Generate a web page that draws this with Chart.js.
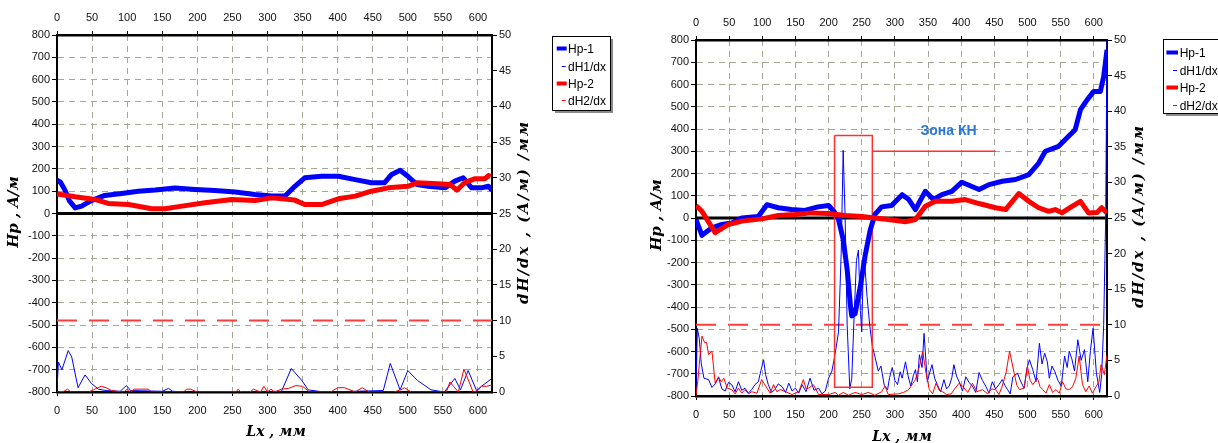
<!DOCTYPE html>
<html>
<head>
<meta charset="utf-8">
<script src="https://cdn.jsdelivr.net/npm/chart.js@4.4.1/dist/chart.umd.min.js"></script>
<style>
  body { margin: 0; background: #fff; width: 1218px; height: 443px; overflow: hidden; position: relative; }
  canvas { position: absolute; top: 0; }
  #c1 { left: 0; }
  #c2 { left: 620px; }
</style>
</head>
<body>
<canvas id="c1" width="620" height="443"></canvas>
<canvas id="c2" width="598" height="443"></canvas>
<script>
// ---- data, pairs of [Lx mm, value] ----
// left chart
var hp1Left = [[0,149],[5,140],[11,107],[18,55],[26,25],[35,33],[49,58],[68,81],[92,90],[116,100],[140,105],[168,114],[197,108],[225,103],[254,96],[282,85],[306,78],[325,78],[339,122],[353,160],[377,167],[401,167],[425,152],[448,138],[467,138],[477,175],[489,194],[500,167],[513,130],[529,122],[553,115],[567,145],[579,160],[591,115],[605,115],[615,122],[620,103]];
var hp2Left = [[0,88],[26,75],[54,63],[73,45],[102,40],[135,21],[154,21],[178,33],[211,48],[249,63],[282,58],[306,70],[339,60],[353,40],[377,40],[401,66],[425,78],[448,100],[472,115],[500,122],[514,138],[543,133],[560,130],[570,105],[581,138],[596,156],[610,156],[615,170],[618,165]];
var dH1Left = [[0,0.3],[2,4.2],[7,3.1],[16,5.8],[21,4.9],[30,0.6],[40,2.4],[49,1.2],[59,0.4],[70,0.2],[90,0.1],[99,0.9],[105,0.2],[150,0.1],[159,0.5],[165,0.1],[180,0],[320,0.1],[334,3.3],[349,1.6],[358,0.3],[380,0],[465,0.2],[475,4.0],[489,0.3],[500,3.0],[514,1.6],[533,0.3],[552,0],[567,1.9],[575,0.3],[586,3.0],[598,0.2],[605,0.8],[620,1.9]];
var dH2Left = [[0,0],[10,0.1],[15,0.4],[20,0],[45,0],[52,0.3],[58,0.6],[63,0.8],[70,0.6],[78,0.2],[85,0.1],[95,0],[100,0.4],[105,0],[110,0.4],[120,0.4],[130,0.4],[135,0],[180,0],[185,0.4],[190,0.4],[200,0],[255,0],[258,0.4],[262,0],[275,0],[280,0.4],[290,0],[295,0.8],[300,0],[305,0.4],[310,0],[320,0.4],[330,0.5],[340,0.9],[350,0.8],[360,0],[390,0],[400,0.6],[410,0.6],[425,0],[435,0.6],[445,0],[460,0],[480,0],[490,0.3],[495,0.6],[500,0.3],[505,0],[555,0],[560,1.4],[565,0.8],[572,0],[580,3.2],[587,1.5],[593,0],[600,0.2],[605,0.8],[612,0.8],[620,1.0]];

// right chart
var hp1Right = [[0,-7],[9,-78],[24,-44],[39,-29],[54,-22],[69,0],[94,7],[107,60],[124,46],[144,38],[164,34],[184,50],[200,56],[208,30],[215,-7],[222,-96],[228,-231],[233,-395],[235,-440],[240,-430],[248,-306],[255,-171],[263,-52],[270,16],[280,50],[295,56],[311,105],[321,83],[331,38],[346,120],[358,83],[371,105],[386,120],[401,161],[427,128],[442,150],[462,165],[482,173],[502,195],[517,247],[527,300],[547,322],[562,367],[572,397],[580,487],[590,531],[600,569],[610,569],[615,636],[620,756]];
var hp2Right = [[0,56],[9,30],[29,-66],[49,-29],[69,-14],[99,-4],[124,11],[149,16],[174,23],[200,20],[225,11],[250,7],[270,0],[290,-7],[316,-17],[331,-7],[346,53],[361,75],[386,75],[406,83],[427,65],[452,46],[467,38],[487,110],[502,75],[517,46],[532,30],[542,38],[552,23],[566,50],[580,75],[592,23],[605,25],[612,46],[620,23]];
var dH1Right = [[0,0.5],[2,9.5],[5,8],[8,4.5],[12,2.5],[19,2.3],[24,1.2],[29,1.7],[34,2.6],[39,1.0],[44,0.7],[49,1.9],[54,1.6],[59,0.6],[64,2.0],[69,0.8],[74,1.1],[79,0.4],[84,0.9],[89,1.6],[94,2.0],[98,3.6],[102,5.1],[105,3.0],[109,1.6],[114,0.5],[119,0.9],[124,1.7],[130,1.3],[135,0.5],[140,1.8],[145,0.7],[150,1.1],[155,0.4],[160,1.6],[166,0.6],[172,2.5],[178,0.8],[185,1.1],[190,0.3],[195,0.7],[200,2.5],[205,3.5],[210,6],[215,9],[219,20],[222,34.5],[225,25],[228,10],[232,1],[235,2.5],[238,10],[242,19],[245,20.5],[248,12],[250,9],[252,17],[255,18],[258,14],[262,10],[266,7],[270,5.5],[275,3.5],[279,4.2],[284,1.5],[289,0.9],[292,2.6],[296,4.0],[300,2.2],[304,1.6],[308,3.4],[311,2.5],[316,4.8],[320,2.8],[324,1.4],[328,2.9],[331,3.7],[334,2.0],[337,5.8],[341,4.0],[344,8.8],[349,2.0],[352,3.1],[356,4.4],[360,2.5],[364,1.6],[369,0.6],[374,2.3],[378,1.0],[382,1.4],[386,2.6],[389,4.4],[393,2.8],[397,2.0],[402,0.7],[407,2.7],[412,1.9],[417,1.4],[422,0.5],[427,3.3],[432,2.2],[437,1.4],[442,0.4],[447,2.0],[452,1.0],[457,1.6],[462,2.3],[466,1.5],[470,0.9],[474,0.3],[478,2.7],[485,3.2],[490,2.0],[495,1.1],[499,3.8],[503,5.1],[508,3.7],[513,2.0],[518,7.4],[522,4.5],[526,6.0],[530,4.8],[533,2.5],[537,4.2],[541,3.5],[546,2.2],[551,1.4],[556,5.6],[560,4.0],[563,6.3],[567,5.2],[571,3.5],[576,7.9],[581,5.0],[586,6.5],[591,2.0],[595,6.4],[599,9.5],[604,3.2],[609,0.5],[612,3],[615,10],[618,25],[620,50]];
var dH2Right = [[0,0],[3,2.4],[6,5.5],[9,8.4],[13,7.5],[16,7.5],[19,5.8],[24,6.3],[29,1.8],[34,2.7],[38,2.0],[42,2.5],[47,1.1],[54,0.9],[59,0.3],[64,1.1],[69,0.4],[74,0.9],[79,0.3],[84,0.6],[92,0.4],[99,2.3],[103,1.7],[107,1.1],[112,0.4],[117,1.6],[122,0.6],[127,0.9],[135,0.6],[145,0.2],[155,0.6],[162,2.3],[166,1.0],[170,1.1],[177,1.6],[185,0.2],[200,0.2],[210,0.5],[215,0.1],[222,0.5],[230,0.1],[240,0.5],[250,0.2],[260,0.5],[270,0.1],[280,0.6],[285,1.4],[290,0.2],[305,0.3],[313,0.5],[321,0.9],[331,2.3],[337,4.1],[342,6.3],[347,3.2],[352,0.9],[357,0.3],[362,1.8],[367,0.8],[372,0.6],[378,0.2],[385,0.3],[391,1.1],[397,1.8],[402,1.4],[410,0.5],[417,1.8],[424,0.6],[432,0.9],[440,0.3],[446,1.0],[452,0.9],[457,0.2],[462,1.4],[468,3.4],[473,6.3],[480,3.2],[484,1.5],[488,0.9],[495,1.1],[500,4.2],[504,2.2],[508,1.6],[515,2.5],[519,1.3],[523,0.9],[528,0.4],[533,1.6],[538,0.5],[543,0.9],[548,0.4],[553,2.0],[558,1.0],[563,0.9],[568,1.3],[573,2.5],[578,5.6],[583,1.6],[588,0.6],[593,1.4],[598,0.4],[604,1.4],[608,2.0],[611,4.4],[616,3],[620,5.8]];

// common
var lxRange = [0, 620];
var hpRange = [-800, 800];
var dhRange = [0, 50];
var dhLimit = 10;                    // dH/dx threshold
var zoneX = [209, 266];              // "Зона КН" box, mm
var zoneHp = [-761, 371];            // box bottom/top, A/m
var zoneLeader = [266, 452, 300];    // x from, x to, Hp level
var zoneLabelAt = [381, 392];
var zoneLabel = 'Зона КН';
var legendNames = ['Hp-1', 'dH1/dx', 'Hp-2', 'dH2/dx'];

// fonts
function hasFont(name) {
  var c = document.createElement('canvas').getContext('2d');
  var s = 'Hp-1 800 dH1/dx Зона';
  c.font = '20px monospace';
  var a = c.measureText(s).width;
  c.font = '20px "' + name + '", monospace';
  return Math.abs(c.measureText(s).width - a) > 0.5;
}
var NARROW = hasFont('Liberation Sans Narrow');
var sansFam = NARROW ? '"Liberation Sans Narrow"' : '"Liberation Sans"';
var tickFont = { family: NARROW ? 'Liberation Sans Narrow' : 'Liberation Sans', size: NARROW ? 12 : 11 };
var legendFont = (NARROW ? '14px ' : '12px ') + sansFam;
var zoneFont = (NARROW ? 'bold 17px ' : 'bold 14px ') + sansFam;
var titleFont = 'bold italic 15px "DejaVu Serif"';

var gridColor = '#a6a697';
var blue = '#0000ff', red = '#ff0000';

function pts(arr) { return arr.map(function (p) { return { x: p[0], y: p[1] }; }); }

function lineSet(label, data, color, width, axis, order, extra) {
  var ds = {
    label: label, data: data, borderColor: color, backgroundColor: color,
    borderWidth: width, yAxisID: axis, order: order,
    pointRadius: 0, tension: 0, fill: false, borderJoinStyle: 'round'
  };
  for (var k in extra || {}) ds[k] = extra[k];
  return ds;
}

function rotText(ctx, txt, x, y, spacing) {
  ctx.save();
  ctx.translate(x, y);
  ctx.rotate(-Math.PI / 2);
  if (spacing) ctx.letterSpacing = spacing;
  ctx.fillText(txt, 0, 0);
  ctx.restore();
}

function buildChart(id, src, box) {
  var canvas = document.getElementById(id);
  var W = canvas.width, H = canvas.height;

  var datasets = [
    lineSet(legendNames[0], pts(src.hp1), blue, 5, 'y', 2, { inLegend: true, thick: true }),
    lineSet(legendNames[1], pts(src.dh1), blue, 1, 'y2', 4, { inLegend: true }),
    lineSet(legendNames[2], pts(src.hp2), red, 5, 'y', 1, { inLegend: true, thick: true }),
    lineSet(legendNames[3], pts(src.dh2), red, 1, 'y2', 3, { inLegend: true }),
    lineSet('limit', pts([[lxRange[0], dhLimit], [lxRange[1], dhLimit]]), '#ff3c3c', 2, 'y2', 6, { borderDash: [20, 12] }),
    lineSet('zero', pts([[lxRange[0], 0], [lxRange[1], 0]]), '#000', 3, 'y', 5)
  ];
  if (src.zone) {
    datasets.push(lineSet('zone', pts([[zoneX[0], zoneHp[1]], [zoneX[1], zoneHp[1]], [zoneX[1], zoneHp[0]], [zoneX[0], zoneHp[0]], [zoneX[0], zoneHp[1]]]), '#ff3030', 1.5, 'y', 3.5, { borderJoinStyle: 'miter' }));
    datasets.push(lineSet('leader', pts([[zoneLeader[0], zoneLeader[2]], [zoneLeader[1], zoneLeader[2]]]), '#ff3030', 1.5, 'y', 3.5));
  }

  var decor = {
    id: 'decor',
    afterDraw: function (chart) {
      var ctx = chart.ctx;
      ctx.save();
      // axis titles
      ctx.fillStyle = '#000';
      ctx.font = titleFont;
      ctx.textAlign = 'center';
      ctx.textBaseline = 'middle';
      rotText(ctx, 'Hp , A/м', box.yt[0], box.yt[1]);
      rotText(ctx, 'dH/dx , (A/м) /мм', box.y2t[0], box.y2t[1], '2px');
      ctx.font = 'bold italic 14px "DejaVu Serif"';
      ctx.fillText('Lx , мм', box.xt[0], box.xt[1]);

      // zone label
      if (src.zone) {
        ctx.font = zoneFont;
        ctx.fillStyle = '#2a78d4';
        ctx.fillText(zoneLabel, chart.scales.x.getPixelForValue(zoneLabelAt[0]), chart.scales.y.getPixelForValue(zoneLabelAt[1]));
      }

      // legend box
      var L = box.legend;
      ctx.fillStyle = '#8a8a8a';
      ctx.fillRect(L.x + 3, L.y + 3, L.w, L.h);
      ctx.fillStyle = '#fff';
      ctx.fillRect(L.x, L.y, L.w, L.h);
      ctx.strokeStyle = '#000';
      ctx.lineWidth = 1;
      ctx.strokeRect(L.x + 0.5, L.y + 0.5, L.w, L.h);
      ctx.font = legendFont;
      ctx.textAlign = 'left';
      var items = chart.data.datasets.filter(function (d) { return d.inLegend; });
      items.forEach(function (d, i) {
        var yy = Math.round(L.y + L.row0 + i * L.step) + 0.5;
        ctx.strokeStyle = d.borderColor;
        ctx.beginPath();
        if (d.thick) {
          ctx.lineWidth = 4;
          ctx.moveTo(L.x + L.sw[0], yy); ctx.lineTo(L.x + L.sw[1], yy);
        } else {
          ctx.lineWidth = 1;
          ctx.moveTo(L.x + L.sw[1] - 5, yy); ctx.lineTo(L.x + L.sw[1] - 1, yy);
        }
        ctx.stroke();
        ctx.fillStyle = '#000';
        ctx.fillText(d.label, L.x + L.tx, yy + 1);
      });
      ctx.restore();
    }
  };

  return new Chart(canvas.getContext('2d'), {
    type: 'line',
    data: { datasets: datasets },
    options: {
      responsive: false,
      animation: false,
      devicePixelRatio: 1,
      layout: { padding: 0 },
      plugins: { legend: { display: false }, tooltip: { enabled: false } },
      scales: {
        x: {
          type: 'linear', position: 'bottom', min: lxRange[0], max: lxRange[1],
          ticks: { stepSize: 50, includeBounds: false, font: tickFont, color: '#111', padding: 8, maxRotation: 0 },
          grid: { color: gridColor, tickColor: '#000', tickLength: 4, tickBorderDash: [] },
          border: { color: '#000', width: 2.5, dash: [6, 5] },
          afterFit: function (s) { s.height = H - box.bottom; }
        },
        xTop: {
          type: 'linear', position: 'top', min: lxRange[0], max: lxRange[1],
          ticks: { stepSize: 50, includeBounds: false, font: tickFont, color: '#111', padding: 6, maxRotation: 0 },
          grid: { drawOnChartArea: false, color: '#000', tickLength: 4 },
          border: { color: '#000', width: 2.5 },
          afterFit: function (s) { s.height = box.top; }
        },
        y: {
          position: 'left', min: hpRange[0], max: hpRange[1],
          ticks: { stepSize: 100, font: tickFont, color: '#111', padding: 2 },
          grid: { color: gridColor, tickColor: '#000', tickLength: 5, tickBorderDash: [] },
          border: { color: '#000', width: 2, dash: [6, 5] },
          afterFit: function (s) { s.width = box.left; }
        },
        y2: {
          position: 'right', min: dhRange[0], max: dhRange[1],
          ticks: { stepSize: 5, font: tickFont, color: '#111', padding: 2 },
          grid: { drawOnChartArea: false, color: '#000', tickLength: 5 },
          border: { color: '#000', width: 2 },
          afterFit: function (s) { s.width = W - box.right; }
        }
      }
    },
    plugins: [decor]
  });
}

buildChart('c1',
  { hp1: hp1Left, hp2: hp2Left, dh1: dH1Left, dh2: dH2Left, zone: false },
  { left: 57, right: 492, top: 35, bottom: 392,
    yt: [14, 212], y2t: [524, 212], xt: [276, 432],
    legend: { x: 552, y: 36, w: 58, h: 74, row0: 12.3, step: 17.2, sw: [4.7, 14.7], tx: 16 } });

buildChart('c2',
  { hp1: hp1Right, hp2: hp2Right, dh1: dH1Right, dh2: dH2Right, zone: true },
  { left: 76, right: 487, top: 40, bottom: 396,
    yt: [37, 215], y2t: [519, 216], xt: [282, 437],
    legend: { x: 543, y: 39, w: 62, h: 74, row0: 12.7, step: 17.8, sw: [3.4, 15], tx: 16.7 } });
</script>
</body>
</html>
